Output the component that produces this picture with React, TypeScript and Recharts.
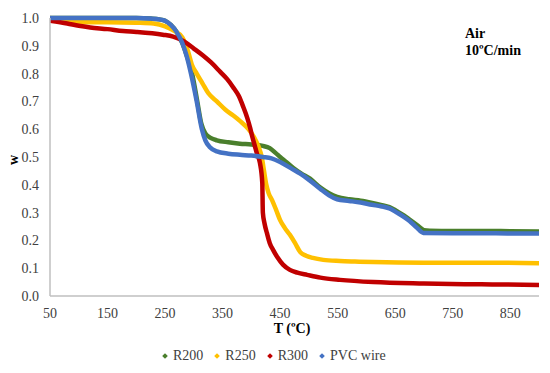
import React from "react";
import { LineChart, Line, XAxis, YAxis } from "recharts";

const xTicks = [50, 150, 250, 350, 450, 550, 650, 750, 850];
const yTicks = [0, 0.1, 0.2, 0.3, 0.4, 0.5, 0.6, 0.7, 0.8, 0.9, 1.0];

const r200T = [50, 100, 150, 200, 225, 240, 250, 260, 270, 280, 290, 297, 306, 313, 320, 330, 340, 360, 380, 400, 420, 432, 442, 450, 460, 473, 487, 502, 520, 535, 549, 570, 590, 610, 625, 640, 653, 665, 675, 688, 700, 710, 750, 800, 850, 900];
const r200W = [1.0, 1.0, 1.0, 1.0, 0.998, 0.995, 0.99, 0.975, 0.95, 0.91, 0.85, 0.8, 0.7, 0.62, 0.585, 0.568, 0.56, 0.553, 0.548, 0.545, 0.54, 0.532, 0.515, 0.5, 0.483, 0.46, 0.44, 0.422, 0.39, 0.37, 0.357, 0.348, 0.343, 0.335, 0.328, 0.32, 0.305, 0.29, 0.275, 0.255, 0.237, 0.235, 0.234, 0.234, 0.233, 0.232];

const r250T = [50, 75, 100, 150, 200, 230, 250, 265, 280, 290, 297, 305, 315, 325, 340, 355, 368, 380, 395, 405, 412, 418, 422, 426, 430, 436, 443, 450, 458, 467, 476, 485, 495, 507, 525, 554, 580, 612, 700, 800, 900];
const r250W = [1.0, 0.99, 0.985, 0.985, 0.983, 0.98, 0.97, 0.955, 0.93, 0.88, 0.83, 0.8, 0.765, 0.73, 0.7, 0.67, 0.65, 0.63, 0.6, 0.57, 0.54, 0.5, 0.45, 0.4, 0.37, 0.345, 0.31, 0.273, 0.245, 0.22, 0.19, 0.158, 0.145, 0.137, 0.13, 0.126, 0.124, 0.122, 0.12, 0.12, 0.118];

const r300T = [50, 80, 100, 120, 150, 177, 200, 246, 264, 281, 300, 316, 330, 346, 358, 368, 378, 386, 393, 398, 402, 406, 410, 415, 419, 420, 423, 427, 432, 438, 445, 455, 467, 480, 497, 520, 554, 612, 700, 800, 900];
const r300W = [0.99, 0.98, 0.972, 0.966, 0.96, 0.953, 0.95, 0.94, 0.933, 0.918, 0.89, 0.865, 0.84, 0.806, 0.78, 0.752, 0.72, 0.68, 0.64, 0.604, 0.57, 0.54, 0.51, 0.478, 0.407, 0.3, 0.26, 0.227, 0.19, 0.165, 0.14, 0.113, 0.094, 0.084, 0.076, 0.066, 0.058, 0.05, 0.045, 0.042, 0.04];

const pvcT = [50, 100, 150, 200, 225, 240, 250, 260, 270, 280, 288, 295, 305, 314, 320, 328, 340, 360, 380, 400, 420, 435, 450, 470, 485, 502, 520, 535, 549, 570, 590, 610, 625, 640, 653, 665, 675, 688, 699, 750, 800, 850, 900];
const pvcW = [1.0, 1.0, 1.0, 1.0, 0.998, 0.995, 0.99, 0.975, 0.95, 0.91, 0.86, 0.8, 0.7, 0.6, 0.56, 0.535, 0.52, 0.512, 0.508, 0.505, 0.5, 0.495, 0.482, 0.458, 0.44, 0.415, 0.385, 0.362, 0.348, 0.342, 0.336, 0.328, 0.323, 0.315, 0.3, 0.285, 0.27, 0.245, 0.227, 0.226, 0.226, 0.225, 0.225];

const toPoints = (ts: number[], ws: number[]) => ts.map((t, i) => ({ t, w: ws[i] }));

const series = [
  { name: "R200", color: "#4a7f2c", data: toPoints(r200T, r200W) },
  { name: "R250", color: "#ffc000", data: toPoints(r250T, r250W) },
  { name: "R300", color: "#c00000", data: toPoints(r300T, r300W) },
  { name: "PVC wire", color: "#4472c4", data: toPoints(pvcT, pvcW) },
];

const serif = "'Liberation Serif', 'Times New Roman', serif";
const tickStyle = { fill: "#404040", fontSize: 14, fontFamily: serif };

export default function App() {
  return (
    <div style={{ position: "absolute", left: 0, top: 0, width: 550, height: 373, background: "#fff", fontFamily: serif }}>
      <LineChart width={550} height={373} margin={{ top: 18, right: 11, left: 10, bottom: 0 }}>
        <XAxis
          type="number"
          dataKey="t"
          domain={[50, 900]}
          ticks={xTicks}
          allowDataOverflow
          height={77}
          tickLine={false}
          tickMargin={6}
          stroke="#bfbfbf"
          strokeWidth={1.5}
          tick={tickStyle}
        />
        <YAxis
          type="number"
          dataKey="w"
          domain={[0, 1]}
          ticks={yTicks}
          width={40}
          tickLine={false}
          tickMargin={5}
          stroke="#bfbfbf"
          strokeWidth={1.5}
          tick={tickStyle}
          tickFormatter={(v: number) => v.toFixed(1)}
        />
        {series.map((s) => (
          <Line
            key={s.name}
            data={s.data}
            dataKey="w"
            name={s.name}
            type="monotone"
            stroke={s.color}
            strokeWidth={4.5}
            dot={false}
            isAnimationActive={false}
          />
        ))}
      </LineChart>

      <div style={{ position: "absolute", left: 4, top: 150, width: 20, height: 20, transform: "rotate(-90deg)", fontWeight: "bold", fontSize: 14, color: "#000", textAlign: "center", lineHeight: "20px" }}>
        w
      </div>
      <div style={{ position: "absolute", left: 242, top: 321, width: 100, textAlign: "center", fontWeight: "bold", fontSize: 14, color: "#000" }}>
        T (ºC)
      </div>
      <div style={{ position: "absolute", left: 465, top: 25, fontWeight: "bold", fontSize: 14, lineHeight: "17px", color: "#000" }}>
        Air
        <br />
        10ºC/min
      </div>

      <div style={{ position: "absolute", left: 163, top: 348, display: "flex", alignItems: "center", fontSize: 14, color: "#404040" }}>
        {series.map((s) => (
          <div key={s.name} style={{ display: "flex", alignItems: "center", marginRight: 12 }}>
            <div style={{ width: 4, height: 4, background: s.color, transform: "rotate(45deg)", marginRight: 6 }} />
            <span>{s.name}</span>
          </div>
        ))}
      </div>
    </div>
  );
}
